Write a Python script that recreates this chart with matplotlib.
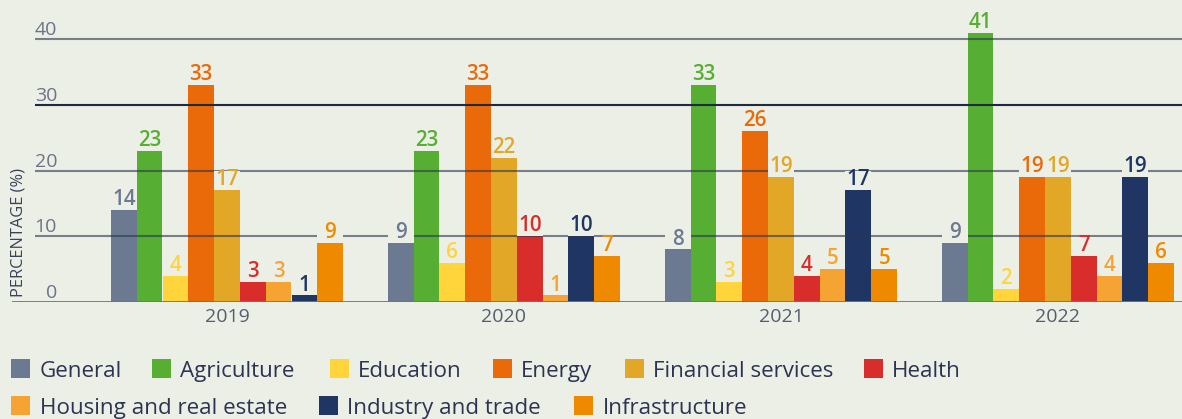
import matplotlib
matplotlib.use("Agg")
import matplotlib.pyplot as plt
import matplotlib.transforms as mtransforms
from matplotlib.patches import Rectangle
import numpy as np

plt.rcParams['font.family'] = ['Open Sans', 'DejaVu Sans']

years = ["2019", "2020", "2021", "2022"]
sectors = ["General", "Agriculture", "Education", "Energy", "Financial services",
           "Health", "Housing and real estate", "Industry and trade", "Infrastructure"]
colors = ["#6b7a90", "#56ae32", "#ffd53b", "#ea6a09", "#e2a726",
          "#d82d2a", "#f5a434", "#1f3564", "#ef8a00"]

general = [14, 9, 8, 9]
agriculture = [23, 23, 33, 41]
education = [4, 6, 3, 2]
energy = [33, 33, 26, 19]
financial = [17, 22, 19, 19]
health = [3, 10, 4, 7]
housing = [3, 1, 5, 4]
industry = [1, 10, 17, 19]
infrastructure = [9, 7, 5, 6]
series = [general, agriculture, education, energy, financial, health, housing,
          industry, infrastructure]

yticks = [0, 10, 20, 30, 40]

BG = "#ecefe5"
W, H = 1182, 419
fig = plt.figure(figsize=(W / 100, H / 100), dpi=100, facecolor=BG)

ax = fig.add_axes([12 / W, (H - 302) / H, 1170 / W, 302 / H])
ax.set_facecolor(BG)
px_per_unit = 262.7 / 40
ax.set_ylim(0, 302 / px_per_unit)
spacing = 277.0
ax.set_xlim((12 - 227) / spacing, (1182 - 227) / spacing)
for s in ax.spines.values():
    s.set_visible(False)
ax.set_xticks([])
ax.set_yticks([])

bw = 25.8 / spacing
x = np.arange(len(years))
for i, (vals, col) in enumerate(zip(series, colors)):
    pos = x + (i - 4) * bw
    ax.bar(pos, vals, width=bw, color=col, zorder=2, linewidth=0)
    for xp, v in zip(pos, vals):
        ax.add_patch(Rectangle((xp - bw / 2, v), bw, 2.9, facecolor=BG,
                               edgecolor='none', zorder=4))
        ax.text(xp, v + 0.75, str(v), ha='center', va='baseline', color=col,
                fontsize=14.8, fontweight='semibold', zorder=5)

# gridlines (over bars)
gx0 = (35 - 227) / spacing
for t in yticks[1:]:
    if t == 30:
        ax.hlines(t, gx0, ax.get_xlim()[1], color="#1f2942", lw=1.5, zorder=3)
    else:
        ax.hlines(t, gx0, ax.get_xlim()[1], color="#2b3550", lw=1.5, alpha=0.6,
                  zorder=3)
ax.axhline(0, color="#6b7486", lw=2, zorder=3)

# y tick labels above lines
trans = mtransforms.blended_transform_factory(ax.transAxes, ax.transData)
off = mtransforms.offset_copy(trans, fig=fig, x=0, y=4, units='dots')
for t in yticks:
    ax.text((57 - 12) / 1170, t, str(t), transform=off, ha='right', va='baseline',
            fontsize=14, color="#6b7488")

# x labels
for xi, yr in zip(x, years):
    ax.text(xi, -0.9, yr, ha='center', va='top', fontsize=14, color="#555d70",
            clip_on=False)

fig.text(19 / W, 1 - 297 / H, "PERCENTAGE (%)", rotation=90, ha='center',
         va='bottom', fontsize=11.8, color="#3a4258")

# legend
row_y = [368.5, 405.5]
legend_layout = [
    (0, 11, 40), (0, 152, 180), (0, 330, 358), (0, 493, 521), (0, 625, 653),
    (0, 864, 892), (1, 11, 40), (1, 319, 347), (1, 574, 603),
]
for (row, sx, tx), name, col in zip(legend_layout, sectors, colors):
    cy = row_y[row]
    fig.patches.append(Rectangle((sx / W, 1 - (cy + 9.5) / H), 19 / W, 19 / H,
                                 transform=fig.transFigure, facecolor=col,
                                 edgecolor='none'))
    fig.text(tx / W, 1 - cy / H, name, ha='left', va='center_baseline',
             fontsize=16.1, color="#2c3452")

fig.savefig("out.png", dpi=100, facecolor=BG)
